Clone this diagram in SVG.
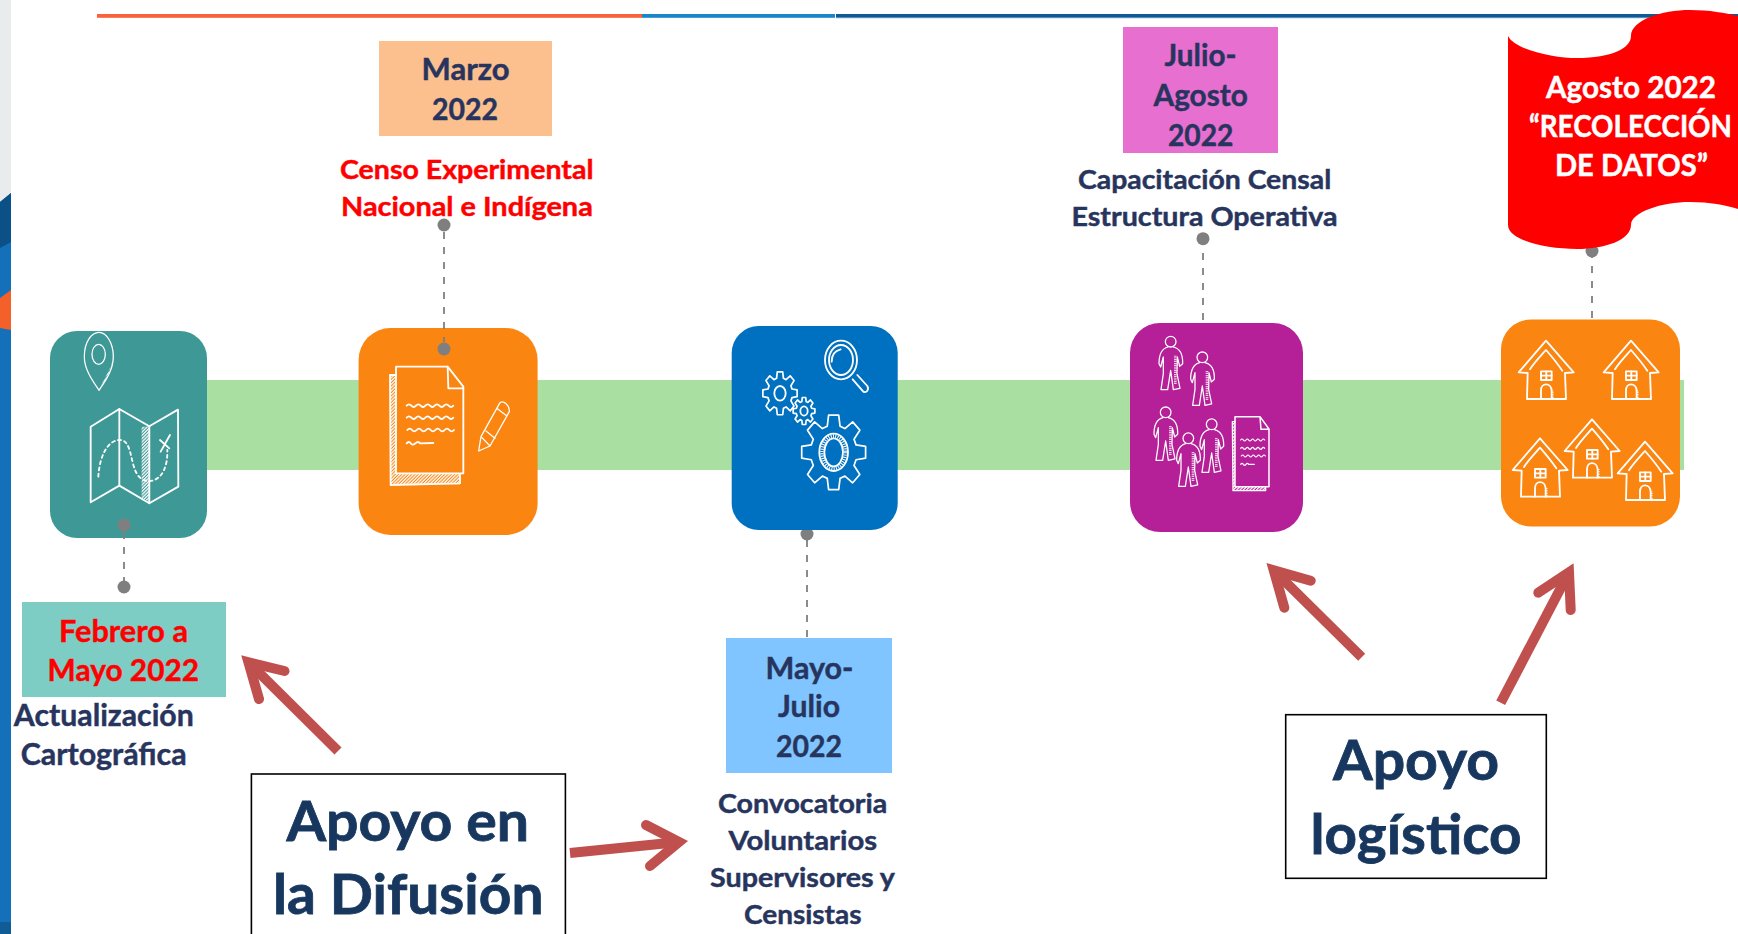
<svg xmlns="http://www.w3.org/2000/svg" xmlns:xlink="http://www.w3.org/1999/xlink" width="1738" height="934" viewBox="0 0 1738 934">
<style>
text{font-family:"Lato","Carlito","Liberation Sans",sans-serif;font-weight:700;paint-order:stroke}
.d{font-size:31px;fill:#27355E;stroke:#27355E;stroke-width:.45}
.r{font-size:27px;fill:#FF0000;stroke:#FF0000;stroke-width:.45}
.s{font-size:27px;fill:#27355E;stroke:#27355E;stroke-width:.45}
.w{font-size:30.5px;fill:#FFFFFF;stroke:#FFFFFF;stroke-width:.45}
.rd{font-size:31px;fill:#FF0000;stroke:#FF0000;stroke-width:.45}
.b{font-size:56px;fill:#17375E;stroke:#17375E;stroke-width:.8}
.conn{stroke:#7F7F7F;stroke-width:1.8;stroke-dasharray:7 8;fill:none}
.dot{fill:#7F7F7F}
.arrow{fill:none;stroke:#C0504D;stroke-width:10;stroke-linejoin:miter;stroke-miterlimit:12}
.cap{fill:none;stroke:#C0504D;stroke-width:10;stroke-linecap:round;stroke-linejoin:miter;stroke-miterlimit:12}
.ic{fill:none;stroke:#FFFFFF;stroke-width:5.5;stroke-linejoin:round;stroke-linecap:round}
.th{stroke-width:3.8}
.box{fill:#FFFFFF;stroke:#000000;stroke-width:1.6}
</style>
<defs>
<pattern id="hatch" width="7" height="7" patternUnits="userSpaceOnUse" patternTransform="rotate(45)"><rect width="3.8" height="7" fill="#FFFFFF"/></pattern>
<path id="gear" vector-effect="non-scaling-stroke" stroke-width="1.7" d="M-19.8,-69.2L-15.6,-98.8L15.6,-98.8L19.8,-69.2L34.9,-63L58.8,-80.9L80.9,-58.8L63,-34.9L69.2,-19.8L98.8,-15.6L98.8,15.6L69.2,19.8L63,34.9L80.9,58.8L58.8,80.9L34.9,63L19.8,69.2L15.6,98.8L-15.6,98.8L-19.8,69.2L-34.9,63L-58.8,80.9L-80.9,58.8L-63,34.9L-69.2,19.8L-98.8,15.6L-98.8,-15.6L-69.2,-19.8L-63,-34.9L-80.9,-58.8L-58.8,-80.9L-34.9,-63Z"/>
<g id="person">
<circle cx="0" cy="0" r="16"/>
<path d="M-8,16C-25,20 -35,36 -35,66L-30,76L-22,46L-22,96L-29,144L-9,144L0,86L8,144L28,140L19,96L20,46L27,74L36,66C37,36 25,20 8,16"/>
<path d="M14,42L14,130" stroke-width="8" stroke-dasharray="2.5 3" stroke-linecap="butt"/>
</g>
<g id="house">
<path d="M-82,95L0,0L83,95L57,97L60,175L-57,175L-55,97Z"/>
<path d="M-48,86C-35,65 -15,45 0,28C15,45 30,62 49,90"/>
<rect x="-15" y="92" width="32" height="26"/>
<path d="M1,92L1,118M-15,105L17,105"/>
<path d="M-15,175L-15,150C-15,125 15,125 17,150L17,175"/>
<path d="M20,150L20,173" stroke-width="6" stroke-dasharray="2 3" stroke-linecap="butt"/>
</g>
</defs>

<rect id="page" width="1738" height="934" fill="#FFFFFF"/>

<g id="side-strip">
<rect x="0" y="0" width="11" height="934" fill="#1470B8"/>
<path d="M0,0H11V193L0,202Z" fill="#E9ECEC"/>
<path d="M0,202L11,193V242L0,248Z" fill="#0B5188"/>
<path d="M0,298L11,290V330L0,328Z" fill="#F4602A"/>
<rect x="0" y="922" width="11" height="12" fill="#0F5C97"/>
</g>

<g id="top-rule">
<rect x="97" y="14" width="545" height="3.8" fill="#F9623A"/>
<rect x="642" y="14" width="193" height="3.8" fill="#1B85C9"/>
<rect x="836" y="14" width="902" height="3.8" fill="#0F5A94"/>
<rect x="836" y="17.8" width="902" height="0.8" fill="#BFE0F5"/>
</g>

<rect id="timeline-band" x="200" y="380" width="1484" height="90" fill="#A9DFA0"/>

<g id="connectors-back">
<path class="conn" d="M807,540V638"/>
<circle class="dot" cx="807" cy="534" r="6.5"/>
<path class="conn" d="M1203,238V323"/>
<circle class="dot" cx="1203" cy="238.7" r="6.5"/>
<path class="conn" d="M1592,251V319"/>
<circle class="dot" cx="1592" cy="251" r="6.5"/>
</g>

<g id="node-teal">
<rect x="50" y="331" width="157" height="207" rx="27" fill="#3E9996"/>
<g transform="translate(60,325) scale(0.3333)">
<path class="ic th" d="M117,196C100,170 73,135 73,95C73,50 95,22 117,22C140,22 160,55 160,95C160,135 135,170 117,196Z"/>
<ellipse class="ic th" cx="116" cy="88" rx="20" ry="30"/>
<path d="M117,194L155,120L160,100L140,165Z" fill="url(#hatch)"/>
<path d="M245,306L268,304L268,530L245,518Z" fill="url(#hatch)"/>
<path class="ic" stroke-width="6.5" d="M92,305L178,252L268,304L354,254L355,485L268,535L178,482L92,532Z"/>
<path class="ic" d="M178,252L178,482M268,304L268,535"/>
<path class="ic" stroke-width="6.5" stroke-dasharray="9 10" d="M115,455C118,400 140,345 180,345C215,345 210,410 230,445C250,485 325,480 322,375"/>
<path class="ic" stroke-width="8" d="M302,380L330,330M300,345L328,370"/>
</g>
</g>

<g id="node-orange-doc">
<rect x="358.6" y="328" width="179" height="207" rx="32" fill="#FB8511"/>
<g transform="translate(380,355) scale(0.3333)">
<path d="M30,60H48V355H240V388H32Z" fill="url(#hatch)"/>
<path class="ic" d="M48,60L30,60L32,390L240,385L240,358"/>
<path class="ic" stroke-width="7" d="M48,35L203,35L250,95L250,355L48,355Z"/>
<path class="ic" stroke-width="7" d="M203,35L205,100L250,100"/>
<path class="ic" stroke-width="7" d="M80,152q7,-8 14,0t14,0t14,0t14,0t14,0t14,0t14,0t14,0t14,0t14,0M80,188q7,-8 14,0t14,0t14,0t14,0t14,0t14,0t14,0t14,0t14,0t14,0M82,225q7,-8 14,0t14,0t14,0t14,0t14,0t14,0t14,0t14,0t14,0t14,0M80,265q7,-8 12,0t14,0t14,0L160,264"/>
<path class="ic th" d="M296,288L303,245L360,143C370,135 390,150 388,170L330,273ZM303,245L330,273M318,228L345,250M350,160L380,182"/>
</g>
</g>

<g id="node-blue">
<rect x="731.7" y="326" width="166" height="204" rx="27" fill="#0070C0"/>
<g transform="translate(750,330) scale(0.3333)" class="ic">
<use xlink:href="#gear" href="#gear" transform="translate(251,367) scale(0.97,1.13)"/>
<ellipse cx="251" cy="367" rx="43" ry="56"/>
<ellipse cx="251" cy="367" rx="28" ry="42"/>
<ellipse cx="251" cy="367" rx="35" ry="49" stroke-width="10" stroke-dasharray="3 4" stroke-linecap="butt"/>
<use xlink:href="#gear" href="#gear" transform="translate(90,190) scale(0.52,0.65)"/>
<ellipse cx="90" cy="190" rx="17" ry="22"/>
<use xlink:href="#gear" href="#gear" transform="translate(162,243) scale(0.33,0.41)"/>
<ellipse cx="162" cy="243" rx="11" ry="14"/>
<ellipse cx="273" cy="90" rx="48" ry="58"/>
<ellipse cx="273" cy="90" rx="36" ry="45"/>
<path d="M245,95C245,75 255,62 272,58"/>
<path d="M308,148L340,185C350,190 358,178 352,168L322,135"/>
</g>
</g>

<g id="node-purple">
<rect x="1130" y="323" width="173" height="209" rx="30" fill="#B51F98"/>
<g transform="translate(1145,330) scale(0.3333)" class="ic th">
<use xlink:href="#person" href="#person" transform="translate(77,35)"/>
<use xlink:href="#person" href="#person" transform="translate(172,82)"/>
<use xlink:href="#person" href="#person" transform="translate(62,247)"/>
<use xlink:href="#person" href="#person" transform="translate(130,325)"/>
<use xlink:href="#person" href="#person" transform="translate(200,283)"/>
<path d="M262,275H270V470H362V482H264Z" fill="url(#hatch)" stroke="none"/>
<path stroke-width="4.5" d="M270,260L345,260L372,297L372,470L270,470ZM345,260L348,298L372,298"/>
<path d="M270,275L262,275L264,482L362,482L362,470"/>
<path stroke-width="3.6" d="M287,330q4,-6 8,0t8,0t8,0t8,0t8,0t8,0t8,0t8,0t8,0M287,355q4,-6 8,0t8,0t8,0t8,0t8,0t8,0t8,0t8,0t8,0M289,378q4,-6 8,0t8,0t8,0t8,0t8,0t8,0t8,0t8,0t8,0M287,403q4,-6 8,0t8,0t8,0L328,403"/>
</g>
</g>

<g id="node-orange-houses">
<rect x="1501" y="319.5" width="179" height="207" rx="30" fill="#FB8511"/>
<g transform="translate(1505,330) scale(0.3333)" class="ic">
<use xlink:href="#house" href="#house" transform="translate(123,32)"/>
<use xlink:href="#house" href="#house" transform="translate(378,32)"/>
<use xlink:href="#house" href="#house" transform="translate(105,325)"/>
<use xlink:href="#house" href="#house" transform="translate(261,268)"/>
<use xlink:href="#house" href="#house" transform="translate(420,335)"/>
</g>
</g>

<g id="connectors-front">
<path class="conn" d="M444,232V342"/>
<circle class="dot" cx="444" cy="225" r="6.5"/>
<circle class="dot" cx="444" cy="349" r="6.5"/>
<path class="conn" d="M124,532V582"/>
<circle class="dot" cx="124" cy="525" r="6.5"/>
<circle class="dot" cx="124" cy="587" r="6.5"/>
</g>

<g id="label-febrero">
<rect x="22" y="602" width="204" height="95" fill="#7DCDC5"/>
<text class="rd" x="59" y="641.5" textLength="129" lengthAdjust="spacingAndGlyphs">Febrero a</text>
<text class="rd" x="47.6" y="681" textLength="151.5" lengthAdjust="spacingAndGlyphs">Mayo 2022</text>
<text class="d" x="13.8" y="725.5" textLength="180" lengthAdjust="spacingAndGlyphs">Actualización</text>
<text class="d" x="20.7" y="764.5" textLength="166" lengthAdjust="spacingAndGlyphs">Cartográfica</text>
</g>

<g id="label-marzo">
<rect x="379" y="41" width="173" height="95" fill="#FBC08E"/>
<text class="d" x="421.5" y="80" textLength="88" lengthAdjust="spacingAndGlyphs">Marzo</text>
<text class="d" x="432" y="120" textLength="66" lengthAdjust="spacingAndGlyphs">2022</text>
<text class="r" x="340" y="178.6" textLength="253.5" lengthAdjust="spacingAndGlyphs">Censo Experimental</text>
<text class="r" x="341" y="216" textLength="251.8" lengthAdjust="spacingAndGlyphs">Nacional e Indígena</text>
</g>

<g id="label-mayo">
<rect x="726" y="638" width="166" height="135" fill="#80C5FF"/>
<text class="d" x="765.5" y="678.5" textLength="88" lengthAdjust="spacingAndGlyphs">Mayo-</text>
<text class="d" x="778" y="717" textLength="62" lengthAdjust="spacingAndGlyphs">Julio</text>
<text class="d" x="776" y="757" textLength="66" lengthAdjust="spacingAndGlyphs">2022</text>
<text class="s" x="718" y="813" textLength="169.3" lengthAdjust="spacingAndGlyphs">Convocatoria</text>
<text class="s" x="728.5" y="849.5" textLength="148.6" lengthAdjust="spacingAndGlyphs">Voluntarios</text>
<text class="s" x="710" y="886.5" textLength="185" lengthAdjust="spacingAndGlyphs">Supervisores y</text>
<text class="s" x="744" y="923.5" textLength="117.5" lengthAdjust="spacingAndGlyphs">Censistas</text>
</g>

<g id="label-julio">
<rect x="1123" y="27" width="155" height="126" fill="#E76FD0"/>
<text class="d" x="1164.5" y="66" textLength="72" lengthAdjust="spacingAndGlyphs">Julio-</text>
<text class="d" x="1153.5" y="106" textLength="94.3" lengthAdjust="spacingAndGlyphs">Agosto</text>
<text class="d" x="1168" y="146" textLength="65.4" lengthAdjust="spacingAndGlyphs">2022</text>
<text class="s" x="1078" y="189" textLength="253.2" lengthAdjust="spacingAndGlyphs">Capacitación Censal</text>
<text class="s" x="1071.5" y="225.7" textLength="266" lengthAdjust="spacingAndGlyphs">Estructura Operativa</text>
</g>

<g id="label-agosto">
<path d="M1508,36C1515,50 1555,58 1577,58C1612,58 1631,48 1631,36C1631,20 1662,10 1690,10C1710,10 1725,13 1738,16V209C1725,205 1710,202 1690,202C1662,202 1631,212 1631,225C1631,240 1605,249 1577,249C1545,249 1508,240 1508,225Z" fill="#FF0000"/>
<text class="w" x="1546" y="97.5" textLength="170" lengthAdjust="spacingAndGlyphs">Agosto 2022</text>
<text class="w" x="1529" y="136.7" textLength="203" lengthAdjust="spacingAndGlyphs">“RECOLECCIÓN</text>
<text class="w" x="1555" y="176" textLength="153" lengthAdjust="spacingAndGlyphs">DE DATOS”</text>
</g>

<g id="box-difusion">
<rect class="box" x="251.4" y="774" width="314" height="170"/>
<text class="b" x="286.5" y="840.5" textLength="242.5" lengthAdjust="spacingAndGlyphs">Apoyo en</text>
<text class="b" x="273" y="913.5" textLength="270.5" lengthAdjust="spacingAndGlyphs">la Difusión</text>
</g>

<g id="box-logistico">
<rect class="box" x="1285.7" y="714.7" width="260.6" height="163.6"/>
<text class="b" x="1333" y="780" textLength="166" lengthAdjust="spacingAndGlyphs">Apoyo</text>
<text class="b" x="1310.5" y="854" textLength="211" lengthAdjust="spacingAndGlyphs">logístico</text>
</g>

<g id="connectors-arrows">
<path class="arrow" d="M338,751L248.4,662.2"/>
<path class="cap" d="M284.5,671L248.4,662.2L259,699"/>
<path class="arrow" d="M570,853L679,842"/>
<path class="cap" d="M646,825L679,842L650,866"/>
<path class="arrow" d="M1361.7,657.3L1273.7,570.2"/>
<path class="cap" d="M1310.7,580.7L1273.7,570.2L1284.3,607.7"/>
<path class="arrow" d="M1500.7,702.7L1569,572.3"/>
<path class="cap" d="M1538.3,592.7L1569,572.3L1570.7,610"/>
</g>
</svg>
